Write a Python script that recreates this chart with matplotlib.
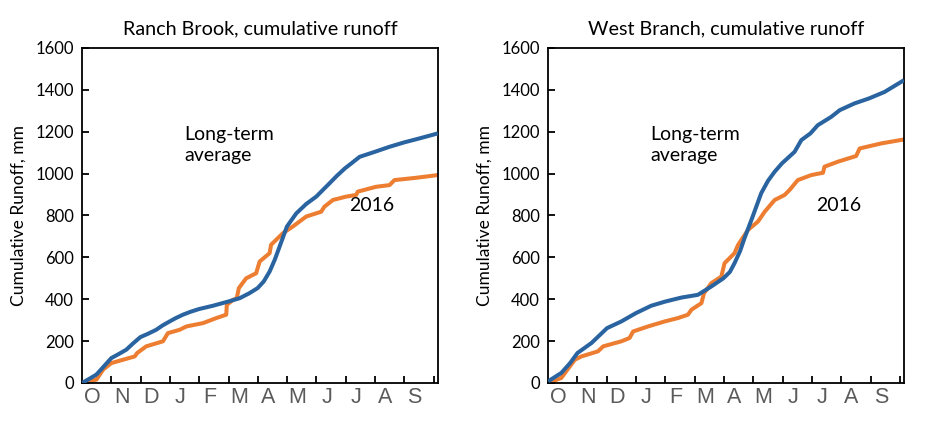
import matplotlib
matplotlib.use("Agg")
import matplotlib.pyplot as plt

# month positions (0 = 1 Oct, 12 = 30 Sep) and cumulative runoff (mm)
rb_avg_x = [0, 0.25, 0.49, 0.75, 1.0, 1.25, 1.51, 1.75, 1.99, 2.25, 2.53, 2.75, 2.99,
            3.2, 3.44, 3.7, 3.99, 4.47, 4.99, 5.38, 5.7, 5.99, 6.2, 6.40, 6.58,
            6.74, 6.99, 7.31, 7.65, 7.99, 8.44, 8.7, 8.97, 9.2, 9.47, 9.99, 10.49,
            10.99, 11.51, 12.14]
rb_avg_y = [0, 20, 40, 80, 119, 138, 159, 190, 219, 235, 254, 275, 294,
            310, 326, 340, 353, 369, 389, 405, 428, 453, 485, 532, 590,
            651, 747, 810, 855, 890, 953, 990, 1025, 1050, 1080, 1104, 1128,
            1149, 1168, 1192]

rb_2016_x = [0, 0.49, 0.72, 1.0, 1.40, 1.80, 1.88, 2.19, 2.76, 2.93, 3.33, 3.56,
             4.13, 4.58, 4.92, 4.94, 5.15, 5.28, 5.35, 5.60, 5.94, 6.06, 6.40,
             6.45, 6.85, 7.19, 7.65, 8.16, 8.27, 8.56, 9.01, 9.35, 9.41, 10.03,
             10.49, 10.66, 11.40, 12.14]
rb_2016_y = [0, 16, 64, 95, 111, 127, 143, 175, 199, 238, 254, 270,
             286, 310, 326, 373, 397, 405, 453, 500, 524, 580, 620,
             660, 715, 747, 795, 818, 842, 874, 890, 898, 914, 937,
             945, 969, 980, 993]

wb_avg_x = [0, 0.45, 0.75, 1.0, 1.48, 2.01, 2.5, 3.0, 3.52, 4.0, 4.55, 5.11, 5.57,
            5.98, 6.2, 6.36, 6.55, 6.70, 6.98, 7.27, 7.5, 7.73, 7.98, 8.41, 8.64,
            8.95, 9.2, 9.66, 9.95, 10.45, 10.95, 11.48, 12.14]
wb_avg_y = [8, 48, 95, 143, 191, 262, 294, 334, 369, 389, 408, 421, 461,
            500, 530, 572, 630, 691, 795, 906, 965, 1009, 1049, 1104, 1160,
            1192, 1231, 1271, 1303, 1335, 1359, 1390, 1446]

wb_2016_x = [0, 0.45, 0.91, 1.14, 1.70, 1.88, 2.5, 2.78, 2.9, 3.41, 3.98, 4.43,
             4.77, 4.89, 5.23, 5.32, 5.57, 5.91, 6.02, 6.36, 6.48, 6.82, 7.16,
             7.39, 7.73, 8.07, 8.24, 8.52, 8.98, 9.38, 9.43, 9.89, 10.51, 10.63,
             11.36, 12.14]
wb_2016_y = [0, 24, 111, 127, 151, 175, 199, 215, 246, 270, 294, 310,
             326, 350, 381, 429, 477, 508, 572, 620, 659, 731, 771,
             818, 874, 898, 922, 969, 993, 1004, 1033, 1057, 1084, 1120,
             1144, 1163]

months = ["O", "N", "D", "J", "F", "M", "A", "M", "J", "J", "A", "S"]
yticks = [0, 200, 400, 600, 800, 1000, 1200, 1400, 1600]

blue = "#2A64A0"
orange = "#ED7D31"

plt.rcParams['font.family'] = ['Lato', 'DejaVu Sans']

fig = plt.figure(figsize=(9.29, 4.23), dpi=100)
ax1 = fig.add_axes([0.0883, 0.0946, 0.383, 0.792])
ax2 = fig.add_axes([0.590, 0.0946, 0.383, 0.792])

panels = [
    (ax1, "Ranch Brook, cumulative runoff", rb_avg_x, rb_avg_y, rb_2016_x, rb_2016_y),
    (ax2, "West Branch, cumulative runoff", wb_avg_x, wb_avg_y, wb_2016_x, wb_2016_y),
]

for ax, title, ax_x, ax_y, o_x, o_y in panels:
    ax.plot(ax_x, ax_y, color=blue, lw=2.9, solid_capstyle='butt', zorder=3)
    ax.plot(o_x, o_y, color=orange, lw=2.9, solid_capstyle='butt', zorder=2)
    ax.set_xlim(0, 12.14)
    ax.set_ylim(0, 1600)
    ax.set_yticks(yticks)
    ax.set_yticklabels([str(v) for v in yticks], fontsize=12)
    ax.set_xticks(range(1, 13))
    ax.set_xticklabels([])
    ax.set_xticks([i + 0.35 for i in range(12)], minor=True)
    ax.set_xticklabels(months, minor=True, fontsize=15.5, color="#5A5A5A",
                       family="Liberation Sans")
    ax.tick_params(axis='x', which='major', direction='in', length=5, width=1.3)
    ax.tick_params(axis='x', which='minor', length=0, pad=3)
    ax.tick_params(axis='y', direction='in', length=5, width=1.3, pad=6)
    for sp in ax.spines.values():
        sp.set_linewidth(1.3)
    ax.set_title(title, fontsize=14.2, pad=10)
    ax.set_ylabel("Cumulative Runoff, mm", fontsize=12.5, labelpad=6)
    ax.text(3.5, 1225, "Long-term\naverage", fontsize=14, va='top', ha='left',
            linespacing=1.25)
    ax.text(9.13, 850, "2016", fontsize=14, va='center', ha='left')

plt.savefig("out.png", dpi=100)
